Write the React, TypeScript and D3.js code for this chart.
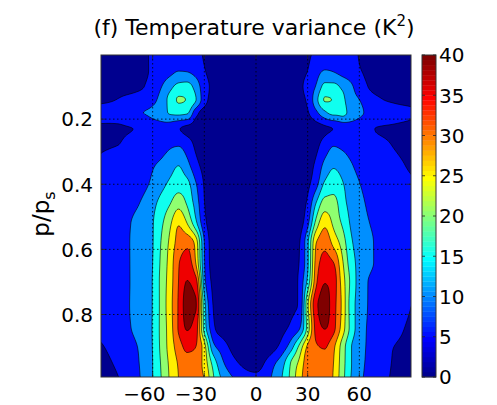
import React, { useMemo } from 'react';
import * as d3 from 'd3';

// latitude (deg) of each data column
const LATS = [-90, -80, -70, -60, -55, -50, -45, -40, -35, -30, -25, -20, -15, -10, -5, 0, 5, 10, 15, 20, 25, 30, 35, 40, 45, 50, 55, 60, 70, 80, 90];
// sigma level (p/ps) of each data row
const PLEVS = [0, 0.05, 0.1, 0.14, 0.18, 0.23, 0.28, 0.34, 0.4, 0.46, 0.52, 0.58, 0.64, 0.7, 0.77, 0.84, 0.9, 0.95, 1.0];
// temperature variance (K^2), one row per level
const VARIANCE = [
  [2, 2.5, 3.5, 5.5, 6.5, 7.5, 8, 8, 6.5, 4.5, 3, 2, 1.5, 1, 0.9, 0.8, 0.9, 1, 1.5, 2, 3, 4.2, 6, 7.5, 8, 7.5, 6.2, 4.8, 3.5, 2.5, 2],
  [2.5, 3, 4, 5.5, 7, 8.5, 9.8, 9.6, 8, 5.3, 3, 2, 1.5, 1, 0.9, 0.8, 0.9, 1, 1.5, 2.2, 3.5, 5, 8, 10.1, 9.6, 8.3, 7, 5.3, 3.8, 3, 2.5],
  [3.5, 3.8, 4.3, 6.5, 9.8, 13.5, 16.5, 17, 13, 7, 4, 2.5, 1.8, 1.2, 1, 1, 1, 1.2, 1.8, 2.5, 4, 6.5, 10.5, 16.5, 16.5, 14, 11, 7.5, 3.8, 3.5, 3],
  [4.6, 5.1, 6.5, 8.5, 12, 16.5, 20.4, 19.8, 15.3, 7, 3.5, 2.8, 2, 1.5, 1.2, 1.2, 1.2, 1.5, 2, 3, 3.8, 5.8, 13.5, 20.3, 19.8, 16.5, 12, 10, 5.8, 4.4, 4],
  [5.6, 6, 9.3, 11, 13.2, 15.5, 16.5, 15.8, 7, 3.2, 2.5, 2.2, 1.8, 1.4, 1.2, 1.2, 1.2, 1.4, 1.8, 2.5, 3.2, 4.6, 9, 14, 16.5, 16.3, 13.5, 11, 8, 6.5, 5.5],
  [4.8, 4.7, 5.1, 7.5, 7.5, 7, 5.3, 3.8, 3.2, 2.5, 2, 1.8, 1.5, 1.2, 1, 1, 1, 1.2, 1.5, 1.8, 2.2, 2.5, 3.2, 4.2, 5.1, 6.5, 7.5, 7, 4.9, 4.6, 4.3],
  [4.85, 5.0, 6.5, 7, 8, 9.3, 9.7, 7.5, 4.2, 2.5, 2, 1.6, 1.3, 1.1, 0.9, 0.9, 0.9, 1.1, 1.3, 1.6, 1.9, 2.5, 4, 7, 9.7, 9, 8, 7, 5.8, 4.9, 4.3],
  [5.3, 6, 7, 9.5, 11, 13, 14.8, 11.5, 6.5, 3.5, 2.2, 1.5, 1.2, 1, 0.8, 0.8, 0.8, 1, 1.2, 1.5, 2, 3.2, 6, 11.5, 14.3, 13, 10.5, 8.5, 6.8, 5.6, 4.7],
  [5.5, 6.2, 7.5, 11, 13.5, 16, 17.8, 16.5, 10.5, 4.6, 2.3, 1.4, 1.1, 0.9, 0.8, 0.8, 0.8, 0.9, 1.1, 1.4, 2.2, 4, 8.5, 16, 17.6, 15.5, 12.5, 10.2, 7.3, 6, 5.3],
  [5.8, 6.8, 9.2, 13.6, 16.8, 19.8, 23.3, 19.5, 13, 5.2, 2.5, 1.3, 1, 0.9, 0.8, 0.8, 0.8, 0.9, 1, 1.4, 2.8, 6, 15.5, 22.3, 22, 17, 13.5, 11.3, 8, 6.5, 5.6],
  [6, 7.5, 11, 14.7, 19, 24, 29.5, 25, 16.5, 6.5, 2.7, 1.3, 1, 0.9, 0.8, 0.8, 0.8, 0.9, 1.1, 1.5, 3, 8.7, 22, 28.8, 24, 19.5, 14.5, 12, 9, 7, 5.8],
  [6.2, 7.8, 11.2, 14.8, 20.3, 26, 32, 33.6, 28, 10, 3, 1.4, 1.1, 1, 0.8, 0.8, 0.8, 1, 1.3, 1.8, 4.5, 14, 30, 33.5, 28.5, 23, 16, 13, 9.5, 7.2, 5.9],
  [6.5, 7.8, 11.2, 15, 21, 27, 34.5, 37, 30, 10.5, 3.2, 1.5, 1.1, 1, 0.9, 0.9, 0.9, 1, 1.4, 2, 5, 14, 32, 36.8, 35, 26, 17.5, 13.5, 9.5, 7.4, 5.8],
  [6.6, 7.8, 11.2, 15.2, 21.5, 27.5, 35, 40.2, 37, 12, 4, 1.8, 1.2, 1, 0.9, 0.9, 0.9, 1.1, 1.5, 2.2, 6, 16.5, 34, 39.8, 37.5, 28, 19, 13, 8.5, 7, 5.5],
  [6.6, 7.8, 11.3, 15.2, 21.5, 28, 35.5, 42, 40.5, 17, 5, 2, 1.3, 1.1, 1, 1, 1.1, 1.3, 2.2, 3.8, 5.5, 24, 39, 42, 37, 29, 18, 13, 8.2, 6.8, 5.05],
  [6, 7.5, 11, 15.3, 21.5, 27.5, 35.5, 40.5, 37.5, 18, 6.5, 2.8, 1.8, 1.3, 1.1, 1.1, 1.3, 1.8, 3.5, 5.8, 9, 22, 37, 40.3, 36.5, 28, 18.5, 12.5, 8.2, 6, 4.5],
  [4.7, 6.5, 9.5, 15.2, 21.2, 27, 32.5, 36.2, 35, 27, 12, 8, 4.5, 2.5, 1.8, 1.5, 2, 3.5, 7, 12.5, 21, 31, 34.5, 35.3, 31, 23, 15.5, 11.8, 8, 5, 4.4],
  [4, 5.7, 9, 15, 20.5, 26, 30.5, 33, 33, 28, 18.5, 11.5, 7.5, 5, 3.5, 3, 5.2, 9, 13, 20, 26, 32.5, 33.5, 34, 30, 22.5, 15.5, 11.6, 7.8, 4.7, 3.8],
  [3.5, 4.8, 8.5, 15, 20, 25.5, 30, 32, 32.5, 30, 21, 15, 11.5, 9, 7.5, 7, 8, 11, 15, 21, 28, 32.5, 33, 33, 29.5, 22, 15, 11.2, 7.2, 4.4, 3.4],
];
const LEVELS = [0, 5, 10, 15, 20, 25, 30, 35, 40];
const X_TICKS = [-60, -30, 0, 30, 60];
const Y_TICKS = [0.2, 0.4, 0.6, 0.8];
const CBAR_TICKS = [0, 5, 10, 15, 20, 25, 30, 35, 40];

const W = 497, H = 405;
const PL = 101, PT = 55, PW = 310, PH = 322;
const CBX = 422, CBW = 14;
const FONT = '"DejaVu Sans", Verdana, sans-serif';
const FS = 20;

function jetMap(m: number): string[] {
  const n = Math.ceil(m / 4);
  const u: number[] = [];
  for (let k = 1; k <= n; k++) u.push(k / n);
  for (let k = 1; k < n; k++) u.push(1);
  for (let k = n; k >= 1; k--) u.push(k / n);
  const R = new Array(m).fill(0), G = new Array(m).fill(0), B = new Array(m).fill(0);
  const off = Math.ceil(n / 2) - (m % 4 === 1 ? 1 : 0);
  for (let k = 0; k < u.length; k++) {
    const g = off + k + 1;
    const r = g + n;
    const b = g - n;
    if (g >= 1 && g <= m) G[g - 1] = u[k];
    if (r >= 1 && r <= m) R[r - 1] = u[k];
    if (b >= 1 && b <= m) B[b - 1] = u[k];
  }
  return R.map((_, i) => d3.rgb(R[i] * 255, G[i] * 255, B[i] * 255).formatHex());
}
const JET = jetMap(64);
const levelColor = (v: number) => JET[Math.min(63, Math.floor((v / 40) * 64))];

function monotone(xs: number[], ys: number[]) {
  const n = xs.length;
  const h: number[] = [], s: number[] = [];
  for (let i = 0; i < n - 1; i++) {
    h.push(xs[i + 1] - xs[i]);
    s.push((ys[i + 1] - ys[i]) / h[i]);
  }
  const m = new Array(n).fill(0);
  for (let i = 1; i < n - 1; i++) {
    const p = (s[i - 1] * h[i] + s[i] * h[i - 1]) / (h[i - 1] + h[i]);
    m[i] = (Math.sign(s[i - 1]) + Math.sign(s[i])) * Math.min(Math.abs(s[i - 1]), Math.abs(s[i]), 0.5 * Math.abs(p)) || 0;
  }
  m[0] = (3 * s[0] - m[1]) / 2;
  m[n - 1] = (3 * s[n - 2] - m[n - 2]) / 2;
  return (x: number) => {
    let k = d3.bisectRight(xs, x) - 1;
    k = Math.max(0, Math.min(n - 2, k));
    const hh = h[k];
    const t = (x - xs[k]) / hh;
    const t2 = t * t, t3 = t2 * t;
    return (2 * t3 - 3 * t2 + 1) * ys[k] + (t3 - 2 * t2 + t) * hh * m[k] + (-2 * t3 + 3 * t2) * ys[k + 1] + (t3 - t2) * hh * m[k + 1];
  };
}

const xScale = d3.scaleLinear().domain([-90, 90]).range([PL, PL + PW]);
const yScale = d3.scaleLinear().domain([0.003, 0.992]).range([PT, PT + PH]);
const cScale = d3.scaleLinear().domain([0, 40]).range([PT + PH, PT]);

export default function App() {
  const contourPaths = useMemo(() => {
    const nx = PW + 1, ny = PH + 1;
    const [lat0, lat1] = xScale.domain();
    const [p0, p1] = yScale.domain();
    const dLat = (lat1 - lat0) / (nx - 1);
    const dP = (p1 - p0) / (ny - 1);
    const fineLat = d3.range(nx).map((i) => lat0 + i * dLat);
    const fineP = d3.range(ny).map((j) => p0 + j * dP);
    const rowsFine = VARIANCE.map((row) => {
      const f = monotone(LATS, row);
      return fineLat.map(f);
    });
    const grid = new Float64Array(nx * ny);
    for (let i = 0; i < nx; i++) {
      const col = rowsFine.map((r) => r[i]);
      const f = monotone(PLEVS, col);
      for (let j = 0; j < ny; j++) grid[j * nx + i] = Math.max(0, f(fineP[j]));
    }
    const contours = d3.contours().size([nx, ny]).thresholds(LEVELS)(Array.from(grid));
    const proj = d3.geoTransform({
      point(x: number, y: number) {
        (this as any).stream.point(xScale(lat0 + (x - 0.5) * dLat), yScale(p0 + (y - 0.5) * dP));
      },
    });
    const path = d3.geoPath(proj);
    return contours.map((c) => ({ value: c.value, d: path(c as any) || '' }));
  }, []);

  const cbarCells = d3.range(64).map((k) => ({
    y0: cScale(((k + 1) * 40) / 64),
    y1: cScale((k * 40) / 64),
    color: JET[k],
  }));

  const digitW = 0.636 * FS;

  return (
    <svg width={W} height={H} style={{ position: 'absolute', left: 0, top: 0, background: '#fff' }} fontFamily={FONT}>
      <defs>
        <clipPath id="plotclip">
          <rect x={PL} y={PT} width={PW} height={PH} />
        </clipPath>
      </defs>
      <g clipPath="url(#plotclip)">
        <rect x={PL} y={PT} width={PW} height={PH} fill={levelColor(0)} />
        {contourPaths.map((c) => (
          <path
            key={c.value}
            d={c.d}
            fill={levelColor(c.value)}
            stroke={c.value === 0 ? 'none' : '#000'}
            strokeWidth={0.6}
          />
        ))}
        {X_TICKS.map((t) => (
          <line key={'gx' + t} x1={xScale(t)} x2={xScale(t)} y1={PT} y2={PT + PH} stroke="#000" strokeWidth={0.8} strokeDasharray="1.5,2.5" />
        ))}
        {Y_TICKS.map((t) => (
          <line key={'gy' + t} x1={PL} x2={PL + PW} y1={yScale(t)} y2={yScale(t)} stroke="#000" strokeWidth={0.8} strokeDasharray="1.5,2.5" />
        ))}
      </g>
      {X_TICKS.map((t) => {
        const digits = String(Math.abs(t));
        const half = (digits.length * digitW) / 2;
        return (
          <g key={'tx' + t}>
            <line x1={xScale(t)} x2={xScale(t)} y1={PT + PH} y2={PT + PH - 4} stroke="#222" strokeWidth={0.8} />
            <line x1={xScale(t)} x2={xScale(t)} y1={PT} y2={PT + 4} stroke="#222" strokeWidth={0.8} />
            <text x={xScale(t)} y={401} textAnchor="middle" fontSize={FS} fill="#000">
              {digits}
            </text>
            {t < 0 && (
              <text x={xScale(t) - half} y={401} textAnchor="end" fontSize={FS} fill="#000">
                {'\u2212'}
              </text>
            )}
          </g>
        );
      })}
      {Y_TICKS.map((t) => (
        <g key={'ty' + t}>
          <line x1={PL} x2={PL + 4} y1={yScale(t)} y2={yScale(t)} stroke="#222" strokeWidth={0.8} />
          <line x1={PL + PW} x2={PL + PW - 4} y1={yScale(t)} y2={yScale(t)} stroke="#222" strokeWidth={0.8} />
          <text x={93} y={yScale(t) + 7.3} textAnchor="end" fontSize={FS} fill="#000">
            {String(t)}
          </text>
        </g>
      ))}
      <rect x={PL} y={PT} width={PW} height={PH} fill="none" stroke="#333" strokeWidth={1} />
      <text x={254} y={35} textAnchor="middle" fontSize={22} fill="#000">
        (f) Temperature variance (K<tspan fontSize={15} dy={-9}>2</tspan>
        <tspan dy={9}>)</tspan>
      </text>
      <text transform={`translate(49,${214}) rotate(-90)`} textAnchor="middle" fontSize={23} fill="#000">
        p/p<tspan fontSize={16} dy={6}>s</tspan>
      </text>
      {cbarCells.map((c, k) => (
        <rect key={'cb' + k} x={CBX} y={c.y0} width={CBW} height={c.y1 - c.y0 + 0.3} fill={c.color} />
      ))}
      <rect x={CBX} y={PT} width={CBW} height={PH} fill="none" stroke="#333" strokeWidth={1} />
      {CBAR_TICKS.map((t) => (
        <g key={'ct' + t}>
          <line x1={CBX + CBW} x2={CBX + CBW - 3} y1={cScale(t)} y2={cScale(t)} stroke="#222" strokeWidth={0.8} />
          <line x1={CBX} x2={CBX + 3} y1={cScale(t)} y2={cScale(t)} stroke="#222" strokeWidth={0.8} />
          <text x={439} y={cScale(t) + 7.3} textAnchor="start" fontSize={FS} fill="#000">
            {String(t)}
          </text>
        </g>
      ))}
    </svg>
  );
}
